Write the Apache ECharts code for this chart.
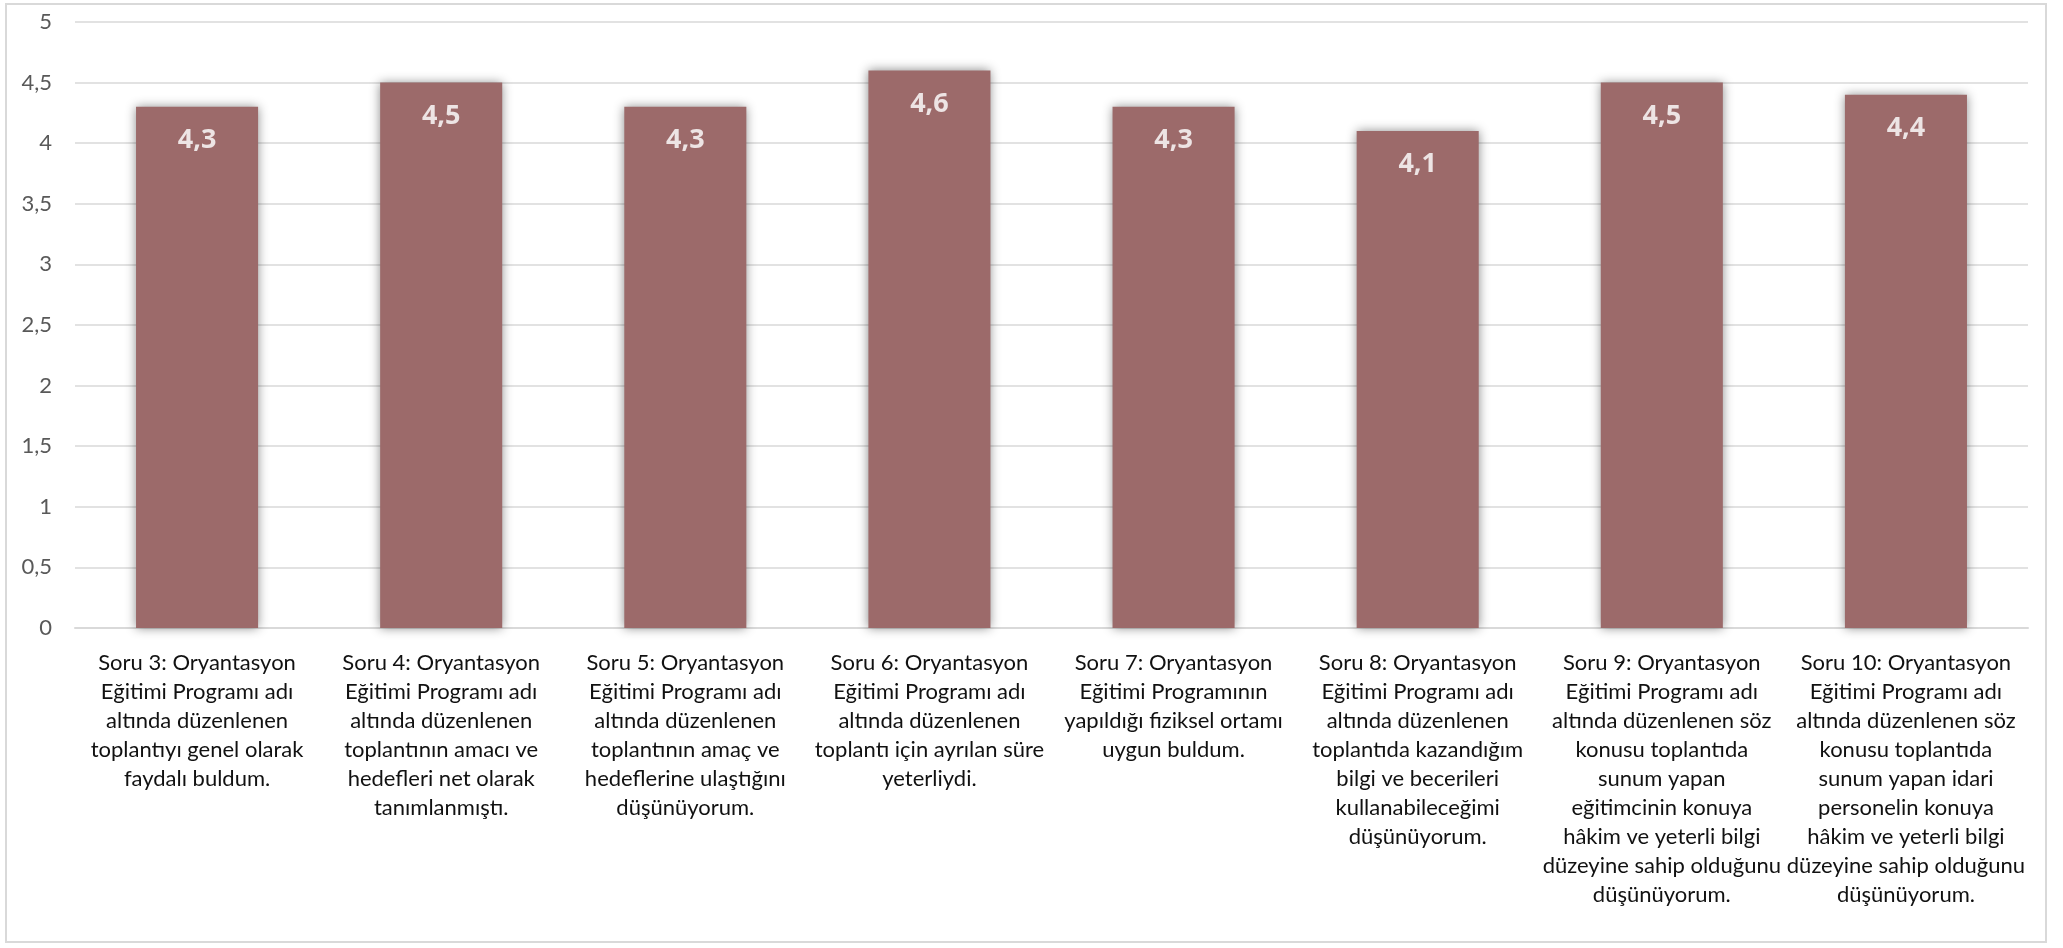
<!DOCTYPE html>
<html><head><meta charset="utf-8">
<script src="https://cdn.jsdelivr.net/npm/echarts@6/dist/echarts.min.js"></script>
<style>html,body{margin:0;padding:0;background:#fff;}#c{width:2063px;height:948px;}
#frame{position:absolute;left:5px;top:3px;width:2042px;height:940px;border:2px solid #d9d9d9;box-sizing:border-box;pointer-events:none;}</style>
</head><body><div id="c"></div><div id="frame"></div>
<script>
const categories = [
  "Soru 3: Oryantasyon\nEğitimi Programı adı\naltında düzenlenen\ntoplantıyı genel olarak\nfaydalı buldum.",
  "Soru 4: Oryantasyon\nEğitimi Programı adı\naltında düzenlenen\ntoplantının amacı ve\nhedefleri net olarak\ntanımlanmıştı.",
  "Soru 5: Oryantasyon\nEğitimi Programı adı\naltında düzenlenen\ntoplantının amaç ve\nhedeflerine ulaştığını\ndüşünüyorum.",
  "Soru 6: Oryantasyon\nEğitimi Programı adı\naltında düzenlenen\ntoplantı için ayrılan süre\nyeterliydi.",
  "Soru 7: Oryantasyon\nEğitimi Programının\nyapıldığı fiziksel ortamı\nuygun buldum.",
  "Soru 8: Oryantasyon\nEğitimi Programı adı\naltında düzenlenen\ntoplantıda kazandığım\nbilgi ve becerileri\nkullanabileceğimi\ndüşünüyorum.",
  "Soru 9: Oryantasyon\nEğitimi Programı adı\naltında düzenlenen söz\nkonusu toplantıda\nsunum yapan\neğitimcinin konuya\nhâkim ve yeterli bilgi\ndüzeyine sahip olduğunu\ndüşünüyorum.",
  "Soru 10: Oryantasyon\nEğitimi Programı adı\naltında düzenlenen söz\nkonusu toplantıda\nsunum yapan idari\npersonelin konuya\nhâkim ve yeterli bilgi\ndüzeyine sahip olduğunu\ndüşünüyorum."
];
const values = [4.3, 4.5, 4.3, 4.6, 4.3, 4.1, 4.5, 4.4];
const yTicks = { min: 0, max: 5, interval: 0.5 };

const fmt = v => String(v).replace('.', ',');
const chart = echarts.init(document.getElementById('c'));
chart.setOption({
  animation: false,
  textStyle: { fontFamily: 'Lato, "Open Sans", sans-serif' },
  grid: { left: 75, right: 35, top: 22, bottom: 320 },
  xAxis: {
    type: 'category', data: categories,
    axisLine: { lineStyle: { color: '#d9d9d9', width: 2 } },
    axisTick: { show: false },
    axisLabel: { interval: 0, color: '#111', fontSize: 22, lineHeight: 29, margin: 20, align: 'center' }
  },
  yAxis: {
    type: 'value', min: yTicks.min, max: yTicks.max, interval: yTicks.interval,
    axisLine: { show: false }, axisTick: { show: false },
    axisLabel: { color: '#595959', fontSize: 22, margin: 23, formatter: fmt },
    splitLine: { lineStyle: { color: '#d9d9d9', width: 1.5 } }
  },
  series: [{
    type: 'bar', data: values, barWidth: '50%',
    itemStyle: { color: '#9c6a6a', shadowBlur: 10, shadowColor: 'rgba(0,0,0,0.45)', shadowOffsetX: 0, shadowOffsetY: 0 },
    label: { show: true, position: 'insideTop', distance: 20, color: '#ede4e4', fontSize: 27, fontWeight: 'bold', fontFamily: '"Open Sans", sans-serif', formatter: p => fmt(p.value) }
  }]
});
</script></body></html>
